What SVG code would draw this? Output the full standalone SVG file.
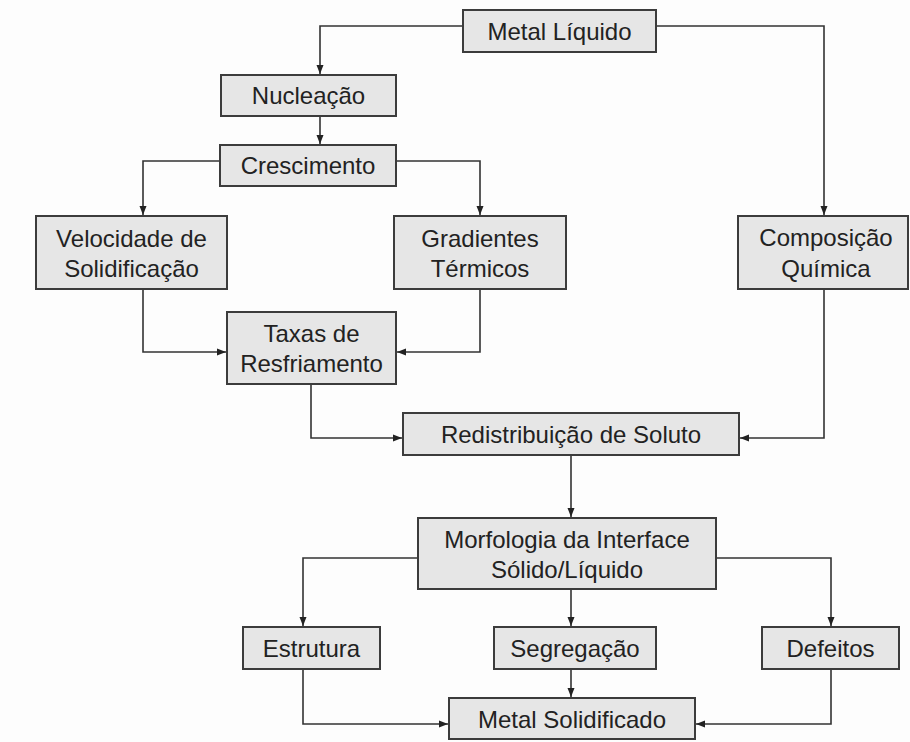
<svg xmlns="http://www.w3.org/2000/svg" width="910" height="742" viewBox="0 0 910 742">
<style>
.box{fill:#e6e6e6;stroke:#3c3c3c;stroke-width:2}
.t{font-family:"Liberation Sans",Arial,sans-serif;font-size:24px;fill:#222;text-anchor:middle}
.c{fill:none;stroke:#333;stroke-width:1.6}
.a{marker-end:url(#arr)}
</style>
<defs>
<marker id="arr" markerUnits="userSpaceOnUse" markerWidth="10" markerHeight="10" viewBox="0 0 10 10" refX="9" refY="5" orient="auto">
<path d="M0,1.5 L9,5 L0,8.5 Z" fill="#222"/>
</marker>
</defs>
<rect width="910" height="742" fill="#fdfdfd"/>
<g id="connectors">
<path class="c a" d="M463,26 H320 V74"/>
<path class="c a" d="M656,26 H824 V215"/>
<path class="c a" d="M320,116 V144"/>
<path class="c a" d="M220,161 H143 V215"/>
<path class="c a" d="M396,161 H480 V215"/>
<path class="c a" d="M143,289 V352 H226"/>
<path class="c a" d="M480,289 V352 H397"/>
<path class="c a" d="M311,384 V438 H402"/>
<path class="c a" d="M824,289 V438 H740"/>
<path class="c a" d="M571,455 V517"/>
<path class="c a" d="M418,558 H303 V626"/>
<path class="c a" d="M571,589 V626"/>
<path class="c a" d="M716,558 H831 V626"/>
<path class="c a" d="M303,669 V724 H448"/>
<path class="c a" d="M571,669 V697"/>
<path class="c a" d="M831,669 V724 H696"/>
</g>
<g id="metal-liquido"><rect class="box" x="463" y="10" width="193" height="42"/><text class="t" x="559.5" y="40">Metal Líquido</text></g>
<g id="nucleacao"><rect class="box" x="221" y="75" width="175" height="41"/><text class="t" x="308.5" y="104">Nucleação</text></g>
<g id="crescimento"><rect class="box" x="220" y="145" width="176" height="41"/><text class="t" x="308" y="174">Crescimento</text></g>
<g id="velocidade"><rect class="box" x="36" y="216" width="191" height="73"/><text class="t" x="131.5" y="247">Velocidade de</text><text class="t" x="131.5" y="277">Solidificação</text></g>
<g id="gradientes"><rect class="box" x="394" y="216" width="172" height="73"/><text class="t" x="480" y="247">Gradientes</text><text class="t" x="480" y="277">Térmicos</text></g>
<g id="composicao"><rect class="box" x="738" y="216" width="170" height="73"/><text class="t" x="826" y="246">Composição</text><text class="t" x="826" y="277">Química</text></g>
<g id="taxas"><rect class="box" x="227" y="312" width="169" height="72"/><text class="t" x="311.5" y="342">Taxas de</text><text class="t" x="311.5" y="372">Resfriamento</text></g>
<g id="redistribuicao"><rect class="box" x="403" y="413" width="336" height="42"/><text class="t" x="571" y="443">Redistribuição de Soluto</text></g>
<g id="morfologia"><rect class="box" x="418" y="518" width="298" height="71"/><text class="t" x="567" y="548">Morfologia da Interface</text><text class="t" x="567" y="578">Sólido/Líquido</text></g>
<g id="estrutura"><rect class="box" x="243" y="627" width="137" height="42"/><text class="t" x="311.5" y="657">Estrutura</text></g>
<g id="segregacao"><rect class="box" x="494" y="627" width="162" height="42"/><text class="t" x="575" y="657">Segregação</text></g>
<g id="defeitos"><rect class="box" x="762" y="627" width="137" height="42"/><text class="t" x="830.5" y="657">Defeitos</text></g>
<g id="metal-solidificado"><rect class="box" x="449" y="698" width="246" height="41"/><text class="t" x="572" y="728">Metal Solidificado</text></g>
</svg>
